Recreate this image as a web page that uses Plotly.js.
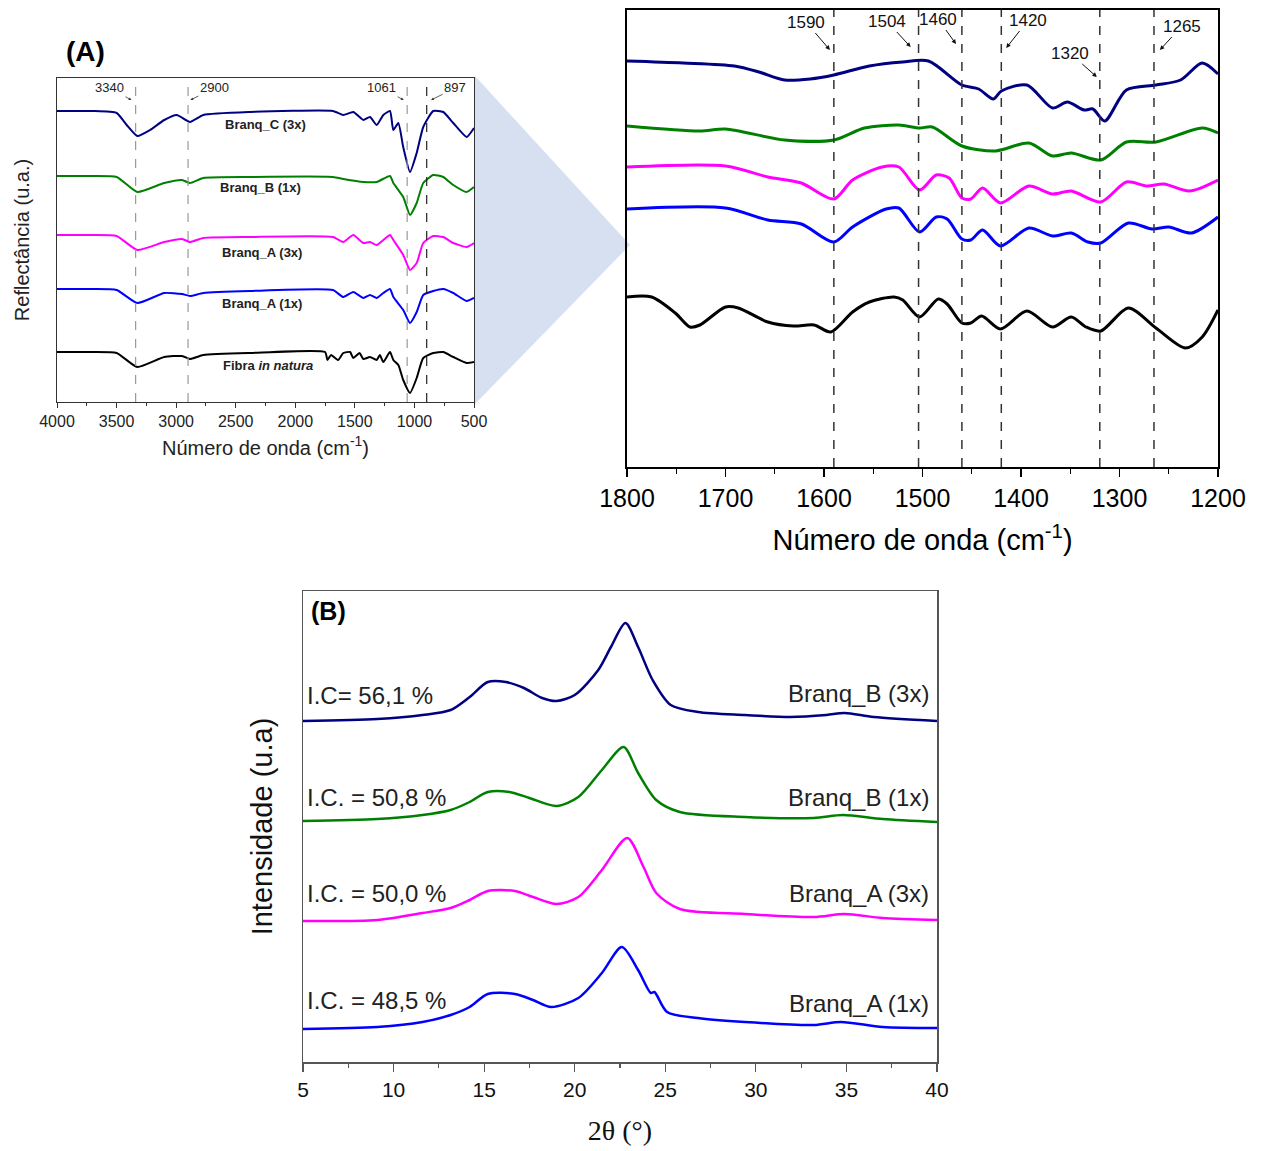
<!DOCTYPE html>
<html><head><meta charset="utf-8">
<script src="https://cdn.plot.ly/plotly-3.0.1.min.js"></script>
<style>html,body{margin:0;padding:0;background:#fff}#chart{width:1266px;height:1151px}</style>
</head><body><div id="chart"></div>
<script>
// ---------- Panel A (left): FTIR full range ----------
const ftirFullX = {
  branqC3: [4000,3700,3499,3415,3326,3219,3100,2995,2884,2772,2380,1684,1597,1513,1429,1373,1317,1261,1205,1177,1135,1094,1037,981,926,842,758,674,562,500],
  branqB1: [4000,3700,3499,3326,3100,2950,2884,2772,2380,1684,1597,1429,1317,1205,1177,1094,1037,981,926,842,758,674,562,500],
  branqA3: [4000,3700,3499,3326,3100,2950,2884,2772,2380,1684,1597,1513,1429,1373,1317,1261,1205,1177,1094,1037,981,926,842,758,674,562,500],
  branqA1: [4000,3700,3499,3326,3100,2950,2884,2772,2380,1684,1597,1513,1429,1373,1317,1261,1205,1177,1094,1037,981,926,842,758,674,562,500],
  fibra:   [4000,3700,3499,3326,3100,2950,2884,2772,2380,1750,1730,1700,1640,1597,1540,1513,1460,1429,1373,1317,1290,1261,1205,1177,1135,1094,1037,981,926,842,758,674,562,500]
};
const ftirFullY = {
  branqC3: [291,291,289,277,266,272,282,287,280,287,290,291,287,290,282,285,277,287,291,272,279,255,230,249,275,291,290,279,265,274],
  branqB1: [226,226,225,210,219,222,219,224,225,225,223,220,220,226,219,205,187,199,219,227,225,217,210,215],
  branqA3: [167,167,166,152,160,163,160,164,165,165,160,167,159,160,157,162,167,162,147,132,139,159,166,165,159,155,159],
  branqA1: [113,113,112,99,109,108,106,109,111,112,105,110,104,107,104,109,113,105,92,79,90,107,111,113,109,101,104],
  fibra:   [50,50,49,35,45,46,43,47,49,50,42,47,42,49,50,44,49,43,45,42,47,40,50,42,37,22,9,24,44,49,50,45,39,40]
};
const ftirNames = ["Branq_C (3x)","Branq_B (1x)","Branq_A (3x)","Branq_A (1x)","Fibra <i>in natura</i>"];
const ftirFullBands = [3340, 2900, 1061, 897];

// ---------- Panel A (right): FTIR 1800-1200 zoom ----------
const ftirZoomX = {
  branqC3: [1800,1743,1691,1666,1640,1614,1590,1554,1520,1494,1460,1443,1428,1420,1394,1368,1353,1336,1327,1315,1293,1263,1238,1216,1200],
  branqB1: [1800,1726,1700,1640,1590,1559,1524,1503,1490,1460,1426,1392,1368,1349,1319,1293,1263,1216,1200],
  branqA3: [1800,1700,1657,1623,1590,1571,1541,1524,1503,1486,1473,1460,1451,1439,1421,1392,1368,1349,1319,1293,1272,1255,1229,1200],
  branqA1: [1800,1700,1657,1623,1590,1571,1537,1524,1503,1486,1475,1460,1451,1439,1421,1392,1368,1349,1332,1319,1291,1267,1250,1227,1200],
  fibra:   [1800,1775,1751,1736,1726,1700,1687,1657,1631,1610,1593,1571,1554,1529,1520,1503,1484,1475,1460,1451,1440,1421,1394,1368,1349,1334,1319,1291,1263,1233,1216,1200]
};
const ftirZoomY = {
  branqC3: [406,404,401,395,387,388,392,401,405,406,382,378,368,376,382,359,365,357,358,346,377,382,387,404,393],
  branqB1: [341,336,338,327,327,339,342,339,340,321,316,324,311,314,307,325,325,339,334],
  branqA3: [300,301,290,284,268,287,300,300,277,292,289,269,268,279,264,281,273,276,265,285,281,283,276,287],
  branqA1: [258,259,247,243,225,240,258,259,235,250,248,228,227,237,221,239,231,234,225,224,244,238,240,234,250],
  fibra:   [170,170,154,140,142,160,159,145,141,142,135,155,165,170,167,150,168,163,144,144,151,138,156,140,150,140,136,159,139,119,130,157]
};
const ftirZoomBands = [1590, 1504, 1460, 1420, 1320, 1265];

// ---------- Panel B: XRD ----------
const xrdX = {
  branqB3: [5,9.1,11.6,13.15,14.2,15.2,16.2,17.2,18.2,19.0,20.0,21.3,22.0,22.8,23.5,24.3,25.3,26.8,29.4,31.9,33.9,34.9,36.5,40],
  branqB1: [5,9.1,11.6,13.15,14.2,15.2,16.4,17.5,19.0,20.2,21.5,22.7,23.5,24.5,25.8,29.4,33.2,34.8,37,40],
  branqA3: [5,9.1,11.6,13.15,14.2,15.2,16.7,17.7,19.0,20.2,21.5,22.9,23.8,24.5,25.8,29.4,33.2,34.9,37,40],
  branqA1: [5,9.1,11.6,13.15,14.2,15.2,16.7,17.7,18.7,20.2,21.5,22.6,23.5,24.2,24.4,25.1,26.8,29.4,33.2,34.7,37,40]
};
const xrdY = {
  branqB3: [341,343,347,352,365,380,380,374,364,361,367,392,415,439,415,382,357,350,347,345,347,349,345,341],
  branqB1: [241,243,247,252,260,270,270,264,256,265,292,315,289,262,250,245,244,247,243,240],
  branqA3: [141,142,149,154,162,171,171,165,158,165,192,224,195,169,153,148,145,148,144,142],
  branqA1: [33,35,40,47,55,68,68,62,55,64,89,115,92,69,70,50,44,40,37,40,35,34]
};
const xrdNames = ["Branq_B (3x)","Branq_B (1x)","Branq_A (3x)","Branq_A (1x)"];
const xrdIC = ["I.C= 56,1 %","I.C. = 50,8 %","I.C. = 50,0 %","I.C. = 48,5 %"];

const keys5 = ["branqC3","branqB1","branqA3","branqA1","fibra"];
const colors5 = ["#000080","#008000","#ff00ff","#0000ff","#000000"];
const keys4 = ["branqB3","branqB1","branqA3","branqA1"];
const colors4 = ["#000080","#008000","#ff00ff","#0000ff"];

const traces = [];
keys5.forEach((k,i)=>{
  traces.push({x:ftirFullX[k], y:ftirFullY[k], type:'scatter', mode:'lines', xaxis:'x', yaxis:'y',
    line:{color:colors5[i], width:2, shape:'spline', smoothing:0.5}, hoverinfo:'skip', showlegend:false});
  traces.push({x:ftirZoomX[k], y:ftirZoomY[k], type:'scatter', mode:'lines', xaxis:'x2', yaxis:'y2',
    line:{color:colors5[i], width:3, shape:'spline', smoothing:0.8}, hoverinfo:'skip', showlegend:false});
});
keys4.forEach((k,i)=>{
  traces.push({x:xrdX[k], y:xrdY[k], type:'scatter', mode:'lines', xaxis:'x3', yaxis:'y3',
    line:{color:colors4[i], width:2.5, shape:'spline', smoothing:0.8}, hoverinfo:'skip', showlegend:false});
});

const W=1266, H=1151;
const px = v=>v/W, py = v=>1-v/H;
const F = 'Liberation Sans, Arial, sans-serif';
const FN = 'Liberation Sans Narrow, Liberation Sans, Arial, sans-serif';

const shapes = [];
// connector triangle
shapes.push({type:'path', xref:'paper', yref:'paper', layer:'below',
  path:`M ${px(475)} ${py(76)} L ${px(630)} ${py(245)} L ${px(475)} ${py(404)} Z`,
  fillcolor:'#d6e0f1', line:{width:0}});
ftirFullBands.forEach((b,i)=>{
  shapes.push({type:'line', xref:'x', yref:'y domain', x0:b, x1:b, y0:0, y1:1,
    line:{color: i===3 ? '#222' : '#999', width:1.2, dash:'dash'}});
});
ftirZoomBands.forEach(b=>{
  shapes.push({type:'line', xref:'x2', yref:'y2 domain', x0:b, x1:b, y0:0, y1:1,
    line:{color:'#333', width:1.5, dash:'dash'}});
});

const annotations = [];
// labels in left panel
const leftLabelY = [277, 214, 149, 98, 36];
const leftLabelX = [2246, 2296, 2279, 2279, 2229];
ftirNames.forEach((n,i)=>{
  annotations.push({xref:'x', yref:'y', x:leftLabelX[i], y:leftLabelY[i], text:'<b>'+n+'</b>', showarrow:false,
    font:{family:F, size:13, color:'#222'}});
});
// band annotations, left panel
const leftBandAnn = [[3340,-22,-12],[2900,24,-12],[1061,-22,-12],[897,24,-12]];
const leftHeadX = [3375, 2880, 1090, 860];
leftBandAnn.forEach((a,i)=>{
  annotations.push({xref:'x', yref:'y', x:leftHeadX[i], y:302, ax:a[1], ay:a[2], text:String(a[0]),
    showarrow:true, arrowhead:2, arrowsize:0.7, arrowwidth:0.8, arrowcolor:'#333', font:{family:F, size:13, color:'#222'}});
});
// band annotations, right panel: [label, headX, headY, ax, ay]
const rightBandAnn = [[1590,1594,417,-24,-28],[1504,1512,420,-24,-26],[1460,1466,423,-18,-25],
  [1420,1415,419,22,-28],[1320,1323,390,-27,-24],[1265,1259,417,22,-24]];
rightBandAnn.forEach(a=>{
  annotations.push({xref:'x2', yref:'y2', x:a[1], y:a[2], ax:a[3], ay:a[4], text:String(a[0]),
    showarrow:true, arrowhead:2, arrowsize:0.9, arrowwidth:1, arrowcolor:'#111', font:{family:FN, size:17, color:'#111'}});
});
// panel letters
annotations.push({xref:'paper', yref:'paper', x:px(64), y:py(52), xanchor:'left', yanchor:'middle', text:'<b>(A)</b>', showarrow:false, font:{family:F, size:28, color:'#000'}});
annotations.push({xref:'paper', yref:'paper', x:px(309), y:py(611), xanchor:'left', yanchor:'middle', text:'<b>(B)</b>', showarrow:false, font:{family:F, size:25, color:'#000'}});
// panel B labels
const icY = [367, 265, 169, 62];
const nameY = [369, 265, 169, 59];
xrdNames.forEach((n,i)=>{
  annotations.push({xref:'paper', yref:'y3', x:px(305), y:icY[i], xanchor:'left', yanchor:'middle', text:xrdIC[i], showarrow:false,
    font:{family:FN, size:24, color:'#222'}});
  annotations.push({xref:'paper', yref:'y3', x:px(931), y:nameY[i], xanchor:'right', yanchor:'middle', text:n, showarrow:false,
    font:{family:FN, size:24, color:'#222'}});
});

const layout = {
  width:W, height:H, margin:{l:0,r:0,t:0,b:0}, paper_bgcolor:'#fff', plot_bgcolor:'rgba(0,0,0,0)',
  showlegend:false,
  xaxis:{domain:[px(57),px(474)], anchor:'y', range:[4000,500], showline:true, mirror:true, linecolor:'#333', linewidth:1.2,
    ticks:'outside', ticklen:5, tickwidth:1, tickcolor:'#333', dtick:500, tick0:500, showgrid:false, zeroline:false,
    minor:{dtick:250, ticklen:3, tickcolor:'#333', showgrid:false},
    tickfont:{family:F, size:16, color:'#222'},
    title:{text:'Número de onda (cm<sup>-1</sup>)', font:{family:F, size:20, color:'#222'}, standoff:11}},
  yaxis:{domain:[py(402),py(78)], anchor:'x', range:[0,324], showline:true, mirror:true, linecolor:'#333', linewidth:1.2,
    showticklabels:false, ticks:'', showgrid:false, zeroline:false,
    title:{text:'Reflectância (u.a.)', font:{family:F, size:20, color:'#222'}, standoff:20}},
  xaxis2:{domain:[px(627),px(1218)], anchor:'y2', range:[1800,1200], showline:true, mirror:true, linecolor:'#000', linewidth:2,
    ticks:'outside', ticklen:8, tickwidth:1.5, tickcolor:'#000', dtick:100, tick0:1200, showgrid:false, zeroline:false,
    minor:{dtick:50, ticklen:5, tickwidth:1.2, tickcolor:'#000', showgrid:false},
    tickfont:{family:FN, size:25, color:'#000'},
    title:{text:'Número de onda (cm<sup>-1</sup>)', font:{family:FN, size:29, color:'#000'}, standoff:19}},
  yaxis2:{domain:[py(467),py(10)], anchor:'x2', range:[0,457], showline:true, mirror:true, linecolor:'#000', linewidth:2,
    showticklabels:false, ticks:'', showgrid:false, zeroline:false},
  xaxis3:{domain:[px(303),px(937)], anchor:'y3', range:[5,40], showline:true, mirror:true, linecolor:'#555', linewidth:1.5,
    ticks:'outside', ticklen:8, tickwidth:1.2, tickcolor:'#555', dtick:5, tick0:5, showgrid:false, zeroline:false,
    minor:{dtick:2.5, ticklen:4, tickcolor:'#555', showgrid:false},
    tickfont:{family:F, size:21, color:'#111'},
    title:{text:'2θ (°)', font:{family:'Liberation Serif, Times New Roman, serif', size:28, color:'#111'}, standoff:20}},
  yaxis3:{domain:[py(1062),py(591)], anchor:'x3', range:[0,471], showline:true, mirror:true, linecolor:'#555', linewidth:1.5,
    showticklabels:false, ticks:'', showgrid:false, zeroline:false,
    title:{text:'Intensidade (u.a)', font:{family:F, size:29, color:'#111'}, standoff:20}},
  shapes:shapes, annotations:annotations
};
Plotly.newPlot('chart', traces, layout, {staticPlot:true, displayModeBar:false});
</script></body></html>
